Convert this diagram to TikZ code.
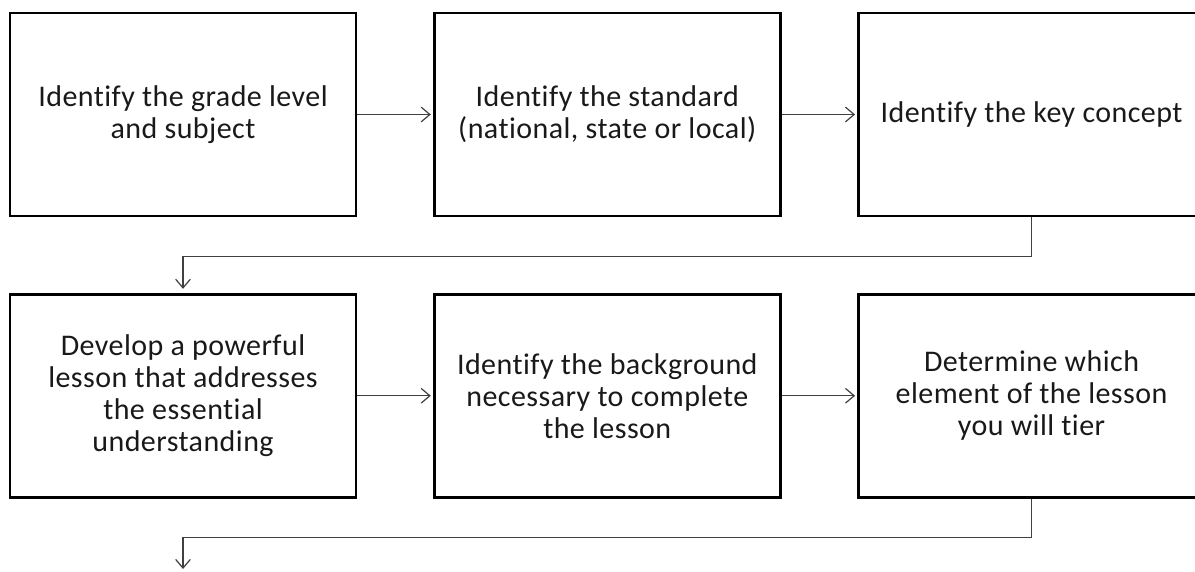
\documentclass[tikz,border=0pt]{standalone}
\usepackage{fontspec}
\setmainfont{Carlito}[Ligatures=NoCommon]
\newfontfamily\stepfont{Carlito}[Ligatures=NoCommon, LetterSpace=1.5]
\usetikzlibrary{positioning,arrows.meta}

\begin{document}
\begin{tikzpicture}[
            x=0.75pt, y=-0.75pt,
            node distance = 56.5pt,
            stepbox/.style = {shape=rectangle, draw=black, line width=2.2pt, minimum width=259.5pt, minimum height=152.25pt, inner sep=0pt, align=center, text=black!90, font=\stepfont\fontsize{22.5}{24}\selectfont},
            link/.style = {draw=black!75, line width=0.9pt, -{Straight Barb[length=6.5pt,width=11pt]}, shorten >=1.5pt}
          ]
          \clip (0,0) rectangle (1195,571);
          % first row
          \node[stepbox] (grade) at (183,114.5) {Identify the grade level\\and subject};
          \node[stepbox, right=of grade] (standard) {Identify the standard\\(national, state or local)};
          \node[stepbox, right=of standard] (concept) {Identify the key concept};
          % second row
          \node[stepbox, below=of grade] (lesson) {Develop a powerful\\lesson that addresses\\the essential\\understanding};
          \node[stepbox, right=of lesson] (background) {Identify the background\\necessary to complete\\the lesson};
          \node[stepbox, right=of background] (tier) {Determine which\\element of the lesson\\you will tier};
          \coordinate (next) at (183,571);

          \draw[link] (grade) -- (standard);
          \draw[link] (standard) -- (concept);
          \draw[link, shorten >=3pt] (concept.south) -- ++(0,39) -| (lesson.north);
          \draw[link] (lesson) -- (background);
          \draw[link] (background) -- (tier);
          \draw[link] (tier.south) -- ++(0,39) -| (next);
        \end{tikzpicture}
\end{document}
